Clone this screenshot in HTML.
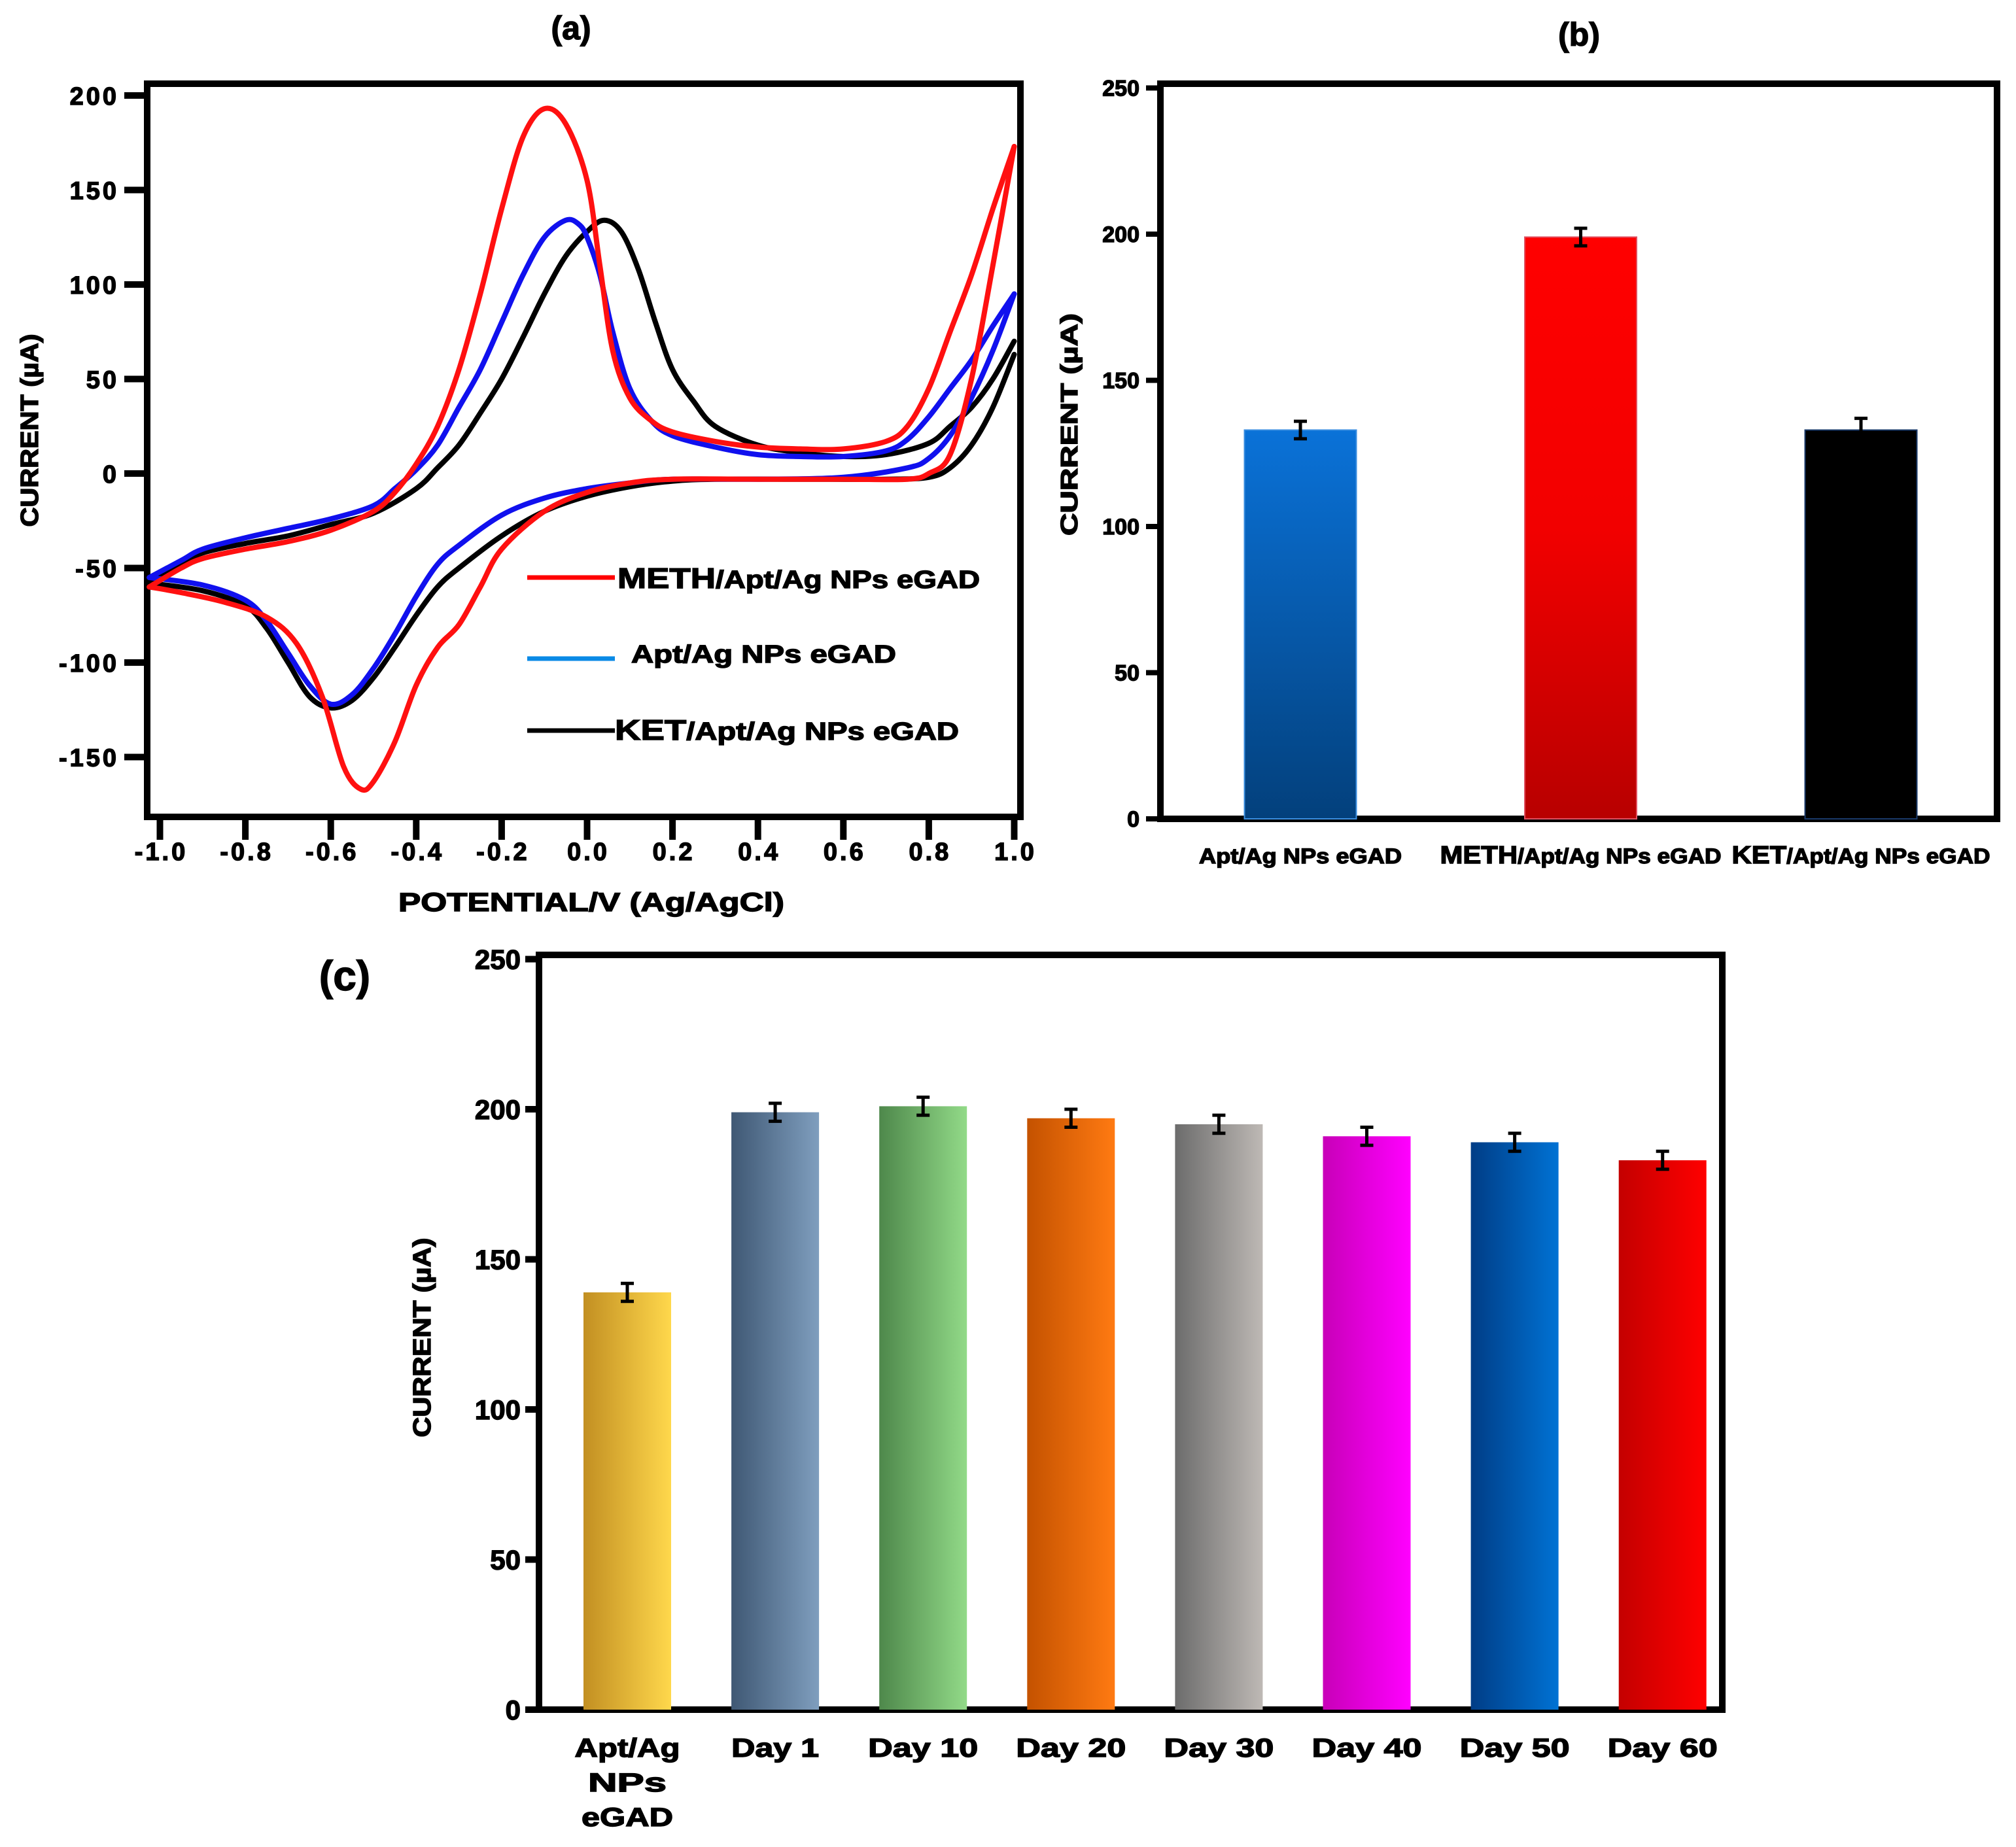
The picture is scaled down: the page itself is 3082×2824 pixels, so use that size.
<!DOCTYPE html>
<html><head><meta charset="utf-8"><style>
html,body{margin:0;padding:0;background:#fff;}
svg{display:block;font-family:"Liberation Sans",Arial,sans-serif;font-weight:bold;}
text{stroke:#000;stroke-width:1.4;}
.ta text{letter-spacing:4px;}
</style></head><body>
<svg id="fig" width="3082" height="2824" viewBox="0 0 3082 2824" xmlns="http://www.w3.org/2000/svg">
<defs>
<linearGradient id="gb-blue" x1="0" y1="0" x2="0" y2="1"><stop offset="0" stop-color="#0a72d8"/><stop offset="1" stop-color="#03407c"/></linearGradient>
<linearGradient id="gb-red" x1="0" y1="0" x2="0" y2="1"><stop offset="0" stop-color="#ff0000"/><stop offset="0.5" stop-color="#f20000"/><stop offset="1" stop-color="#b80000"/></linearGradient>
<linearGradient id="gb-black" x1="0" y1="0" x2="0" y2="1"><stop offset="0" stop-color="#000"/><stop offset="1" stop-color="#000"/></linearGradient>
<linearGradient id="gc0" x1="0" y1="0" x2="1" y2="0"><stop offset="0" stop-color="#c28f22"/><stop offset="1" stop-color="#ffd84c"/></linearGradient>
<linearGradient id="gc1" x1="0" y1="0" x2="1" y2="0"><stop offset="0" stop-color="#3f5874"/><stop offset="1" stop-color="#7f9ebe"/></linearGradient>
<linearGradient id="gc2" x1="0" y1="0" x2="1" y2="0"><stop offset="0" stop-color="#4e884b"/><stop offset="1" stop-color="#92da88"/></linearGradient>
<linearGradient id="gc3" x1="0" y1="0" x2="1" y2="0"><stop offset="0" stop-color="#c45200"/><stop offset="1" stop-color="#ff7a12"/></linearGradient>
<linearGradient id="gc4" x1="0" y1="0" x2="1" y2="0"><stop offset="0" stop-color="#6c6c6c"/><stop offset="1" stop-color="#beb9b5"/></linearGradient>
<linearGradient id="gc5" x1="0" y1="0" x2="1" y2="0"><stop offset="0" stop-color="#c800b8"/><stop offset="1" stop-color="#ff00ff"/></linearGradient>
<linearGradient id="gc6" x1="0" y1="0" x2="1" y2="0"><stop offset="0" stop-color="#003d86"/><stop offset="1" stop-color="#0072d4"/></linearGradient>
<linearGradient id="gc7" x1="0" y1="0" x2="1" y2="0"><stop offset="0" stop-color="#c40000"/><stop offset="1" stop-color="#ff0000"/></linearGradient>
</defs>

<text x="873" y="60" font-size="50" text-anchor="middle">(a)</text>
<text x="2414" y="70" font-size="50" text-anchor="middle">(b)</text>
<text x="527" y="1514" font-size="64" text-anchor="middle">(c)</text>

<rect x="225" y="128" width="1335" height="1121" fill="none" stroke="#000" stroke-width="10"/>
<g id="a-ticks" class="ta"></g>
<g id="a-curves"></g>
<text x="904" y="1393" font-size="40" text-anchor="middle" textLength="590" lengthAdjust="spacingAndGlyphs">POTENTIAL/V (Ag/AgCl)</text>
<text transform="translate(58,658) rotate(-90)" font-size="38" text-anchor="middle" textLength="295" lengthAdjust="spacingAndGlyphs">CURRENT (µA)</text>

<g>
<line x1="806" y1="883" x2="940" y2="883" stroke="#ff0000" stroke-width="7"/>
<text x="944" y="899" font-size="38" textLength="554" lengthAdjust="spacingAndGlyphs"><tspan font-size="44">METH</tspan>/Apt/Ag NPs eGAD</text>
<line x1="806" y1="1007" x2="940" y2="1007" stroke="#0a8ae6" stroke-width="7"/>
<text x="965" y="1013" font-size="38" textLength="405" lengthAdjust="spacingAndGlyphs">Apt/Ag NPs eGAD</text>
<line x1="806" y1="1117" x2="940" y2="1117" stroke="#000" stroke-width="7"/>
<text x="940" y="1131" font-size="38" textLength="526" lengthAdjust="spacingAndGlyphs"><tspan font-size="44">KET</tspan>/Apt/Ag NPs eGAD</text>
</g>

<rect x="1774" y="128" width="1279" height="1124" fill="none" stroke="#000" stroke-width="10"/>
<g id="b-ticks"></g>
<g id="b-bars"></g>
<text transform="translate(1647,649) rotate(-90)" font-size="36" text-anchor="middle" textLength="340" lengthAdjust="spacingAndGlyphs">CURRENT (µA)</text>

<rect x="824" y="1460" width="1809" height="1154" fill="none" stroke="#000" stroke-width="10"/>
<g id="c-ticks"></g>
<g id="c-bars"></g>
<text transform="translate(658,2045) rotate(-90)" font-size="38" text-anchor="middle" textLength="305" lengthAdjust="spacingAndGlyphs">CURRENT (µA)</text>
</svg>
<script>
// ---------- Panel (a) data ----------
const redFwdX = [-1.025,-0.95,-0.9,-0.8,-0.7,-0.6,-0.5,-0.45,-0.4,-0.35,-0.3,-0.25,-0.2,-0.15,-0.1,-0.05,0.0,0.03,0.06,0.1,0.15,0.2,0.3,0.4,0.5,0.6,0.7,0.75,0.8,0.85,0.9,0.95,1.0];
const redFwdY = [-60,-50,-45,-40,-36,-30,-20,-10,5,25,55,95,140,178,193,185,155,110,65,40,28,22,17,14,13,13,17,25,45,75,105,140,173];
const redRevX = [1.0,0.95,0.9,0.85,0.8,0.75,0.6,0.4,0.2,0.1,0.0,-0.1,-0.2,-0.25,-0.3,-0.35,-0.4,-0.45,-0.5,-0.53,-0.57,-0.62,-0.68,-0.75,-0.85,-0.95,-1.025];
const redRevY = [173,110,50,10,0,-3,-3,-3,-3,-5,-10,-20,-40,-60,-80,-92,-112,-142,-163,-167,-155,-118,-90,-76,-68,-63,-60];
const blueFwdX = [-1.025,-0.95,-0.9,-0.8,-0.7,-0.6,-0.5,-0.45,-0.4,-0.35,-0.3,-0.25,-0.2,-0.15,-0.1,-0.05,-0.02,0.0,0.03,0.06,0.1,0.15,0.2,0.3,0.4,0.5,0.6,0.7,0.75,0.8,0.85,0.9,0.95,1.0];
const blueFwdY = [-55,-46,-40,-34,-29,-24,-17,-8,2,15,35,55,80,105,125,134,132,125,105,75,45,28,20,14,10,9,9,12,18,30,45,60,78,95];
const blueRevX = [1.0,0.95,0.9,0.85,0.8,0.75,0.6,0.4,0.2,0.1,0.0,-0.1,-0.2,-0.3,-0.35,-0.4,-0.45,-0.5,-0.55,-0.6,-0.65,-0.7,-0.75,-0.8,-0.9,-1.025];
const blueRevY = [95,65,40,20,8,3,-2,-3,-3,-5,-8,-13,-22,-38,-48,-65,-85,-103,-117,-122,-112,-95,-78,-67,-59,-55];
const blackFwdX = [-1.025,-0.95,-0.9,-0.8,-0.7,-0.6,-0.5,-0.4,-0.35,-0.3,-0.25,-0.2,-0.15,-0.1,-0.05,0.0,0.04,0.08,0.12,0.16,0.2,0.25,0.3,0.4,0.5,0.6,0.7,0.8,0.85,0.9,0.95,1.0];
const blackFwdY = [-58,-48,-42,-37,-33,-27,-21,-8,3,15,32,50,72,95,115,128,134,128,108,80,55,38,25,15,11,9,10,16,25,35,50,70];
const blackRevX = [1.0,0.95,0.9,0.85,0.8,0.7,0.5,0.3,0.2,0.1,0.0,-0.1,-0.2,-0.3,-0.35,-0.4,-0.45,-0.5,-0.55,-0.6,-0.65,-0.7,-0.75,-0.8,-0.9,-1.025];
const blackRevY = [63,35,15,3,-2,-3,-3,-3,-4,-7,-12,-20,-33,-50,-60,-75,-92,-108,-120,-124,-118,-100,-82,-70,-62,-58];
const aXTicks = [-1.0,-0.8,-0.6,-0.4,-0.2,0.0,0.2,0.4,0.6,0.8,1.0];
const aXTickLabels = ["-1.0","-0.8","-0.6","-0.4","-0.2","0.0","0.2","0.4","0.6","0.8","1.0"];
const aYTicks = [-150,-100,-50,0,50,100,150,200];
const aYTickLabels = ["-150","-100","-50","0","50","100","150","200"];

// ---------- Panel (b) data ----------
const bCategories = ["Apt/Ag NPs eGAD","METH/Apt/Ag NPs eGAD","KET/Apt/Ag NPs eGAD"];
const bValues = [133,199,133];
const bErrors = [3,3,4];
const bYTicks = [0,50,100,150,200,250];

// ---------- Panel (c) data ----------
const cCategories = ["Apt/Ag NPs eGAD","Day 1","Day 10","Day 20","Day 30","Day 40","Day 50","Day 60"];
const cValues = [139,199,201,197,195,191,189,183];
const cErrors = [3,3,3,3,3,3,3,3];
const cYTicks = [0,50,100,150,200,250];

const NS = "http://www.w3.org/2000/svg";
function mk(tag, attrs, parent){const e=document.createElementNS(NS,tag);for(const k in attrs)e.setAttribute(k,attrs[k]);parent.appendChild(e);return e;}

const ax = v => 897.5 + 653*v;
const ay = v => 724 - 2.89*v;
const by = v => 1252 - 4.47*v;
const bx = i => 1988 + 428.5*i;
const cy = v => 2614 - 4.59*v;
const cx = i => 959 + 226.1*i;

const aT = document.getElementById('a-ticks');
aXTicks.forEach((v,i)=>{
  const t = mk('line',{x1:ax(v),y1:1249,x2:ax(v),y2:1284,stroke:'#000','stroke-width':10},aT);
  
  
  const l = mk('text',{x:ax(v)+2,y:1315,'font-size':38,'text-anchor':'middle'},aT);
  l.textContent = aXTickLabels[i];
  
  
});
aYTicks.forEach((v,i)=>{
  const t = mk('line',{x1:190,y1:ay(v),x2:225,y2:ay(v),stroke:'#000','stroke-width':10},aT);
  
  
  const l = mk('text',{x:182,y:ay(v)+14,'font-size':38,'text-anchor':'end'},aT);
  l.textContent = aYTickLabels[i];
  
  
});

function smooth(xs, ys){
  const p = xs.map((x,i)=>[ax(x), ay(ys[i])]);
  let d = 'M'+p[0][0].toFixed(1)+','+p[0][1].toFixed(1);
  for(let i=0;i<p.length-1;i++){
    const p0=p[Math.max(0,i-1)], p1=p[i], p2=p[i+1], p3=p[Math.min(p.length-1,i+2)];
    const c1=[p1[0]+(p2[0]-p0[0])/6, p1[1]+(p2[1]-p0[1])/6];
    const c2=[p2[0]-(p3[0]-p1[0])/6, p2[1]-(p3[1]-p1[1])/6];
    d += ' C'+c1[0].toFixed(1)+','+c1[1].toFixed(1)+' '+c2[0].toFixed(1)+','+c2[1].toFixed(1)+' '+p2[0].toFixed(1)+','+p2[1].toFixed(1);
  }
  return d;
}
const aC = document.getElementById('a-curves');
function curve(xs,ys,color,name){
  const e = mk('path',{d:smooth(xs,ys),fill:'none',stroke:color,'stroke-width':8,'stroke-linejoin':'round','stroke-linecap':'round'},aC);
  
  
}
curve(blackFwdX,blackFwdY,'#000','ket-forward-scan');
curve(blackRevX,blackRevY,'#000','ket-reverse-scan');
curve(blueFwdX,blueFwdY,'#1010ee','apt-forward-scan');
curve(blueRevX,blueRevY,'#1010ee','apt-reverse-scan');
curve(redFwdX,redFwdY,'#ff1010','meth-forward-scan');
curve(redRevX,redRevY,'#ff1010','meth-reverse-scan');

const bT = document.getElementById('b-ticks');
bYTicks.forEach(v=>{
  const t = mk('line',{x1:1752,y1:by(v),x2:1774,y2:by(v),stroke:'#000','stroke-width':8},bT);
  
  
  const l = mk('text',{x:1742,y:by(v)+12,'font-size':34,'text-anchor':'end'},bT);
  l.textContent = String(v);
  
  
});
const bB = document.getElementById('b-bars');
const bFills = ['url(#gb-blue)','url(#gb-red)','url(#gb-black)'];
const bStroke = ['#3a8ee0','#e05060','#1a3a6a'];
const bLabelLen = [310,430,395];
bCategories.forEach((c,i)=>{
  const w=171, x=bx(i)-w/2, y=by(bValues[i]);
  const r = mk('rect',{x:x,y:y,width:w,height:by(0)-y,fill:bFills[i],stroke:bStroke[i],'stroke-width':2},bB);
  
  
  const top=by(bValues[i]+bErrors[i]), bot=by(bValues[i]-bErrors[i]);
  const e = mk('path',{d:`M${bx(i)},${top} V${bot} M${bx(i)-10},${top} H${bx(i)+10} M${bx(i)-10},${bot} H${bx(i)+10}`,stroke:'#000','stroke-width':5,fill:'none'},bB);
  
  
  const l = mk('text',{x:bx(i),y:1320,'font-size':32,'text-anchor':'middle',textLength:bLabelLen[i],lengthAdjust:'spacingAndGlyphs'},bB);
  if(i>0){
    const head=c.slice(0,c.indexOf('/')), rest=c.slice(c.indexOf('/'));
    const t1=mk('tspan',{'font-size':38},l); t1.textContent=head;
    const t2=mk('tspan',{},l); t2.textContent=rest;
  } else l.textContent=c;
  
  
});

const cT = document.getElementById('c-ticks');
cYTicks.forEach(v=>{
  const t = mk('line',{x1:803,y1:cy(v),x2:824,y2:cy(v),stroke:'#000','stroke-width':10},cT);
  
  
  const l = mk('text',{x:796,y:cy(v)+15,'font-size':42,'text-anchor':'end'},cT);
  l.textContent = String(v);
  
  
});
const cB = document.getElementById('c-bars');
cCategories.forEach((c,i)=>{
  const w=134, x=cx(i)-w/2, y=cy(cValues[i]);
  const r = mk('rect',{x:x,y:y,width:w,height:cy(0)-y,fill:'url(#gc'+i+')'},cB);
  
  
  const top=cy(cValues[i]+cErrors[i]), bot=cy(cValues[i]-cErrors[i]);
  const e = mk('path',{d:`M${cx(i)},${top} V${bot} M${cx(i)-10},${top} H${cx(i)+10} M${cx(i)-10},${bot} H${cx(i)+10}`,stroke:'#000','stroke-width':5,fill:'none'},cB);
  
  
  if(i===0){
    const parts=['Apt/Ag','NPs','eGAD'], lens=[161,120,140];
    parts.forEach((s,k)=>{
      const l = mk('text',{x:cx(i),y:2686+k*53,'font-size':40,'text-anchor':'middle',textLength:lens[k],lengthAdjust:'spacingAndGlyphs'},cB);
      l.textContent=s;
      
      
    });
  } else {
    const l = mk('text',{x:cx(i),y:2686,'font-size':40,'text-anchor':'middle',textLength:(c.length>5?168:134),lengthAdjust:'spacingAndGlyphs'},cB);
    l.textContent=c;
    
    
  }
});
</script>
</body></html>
